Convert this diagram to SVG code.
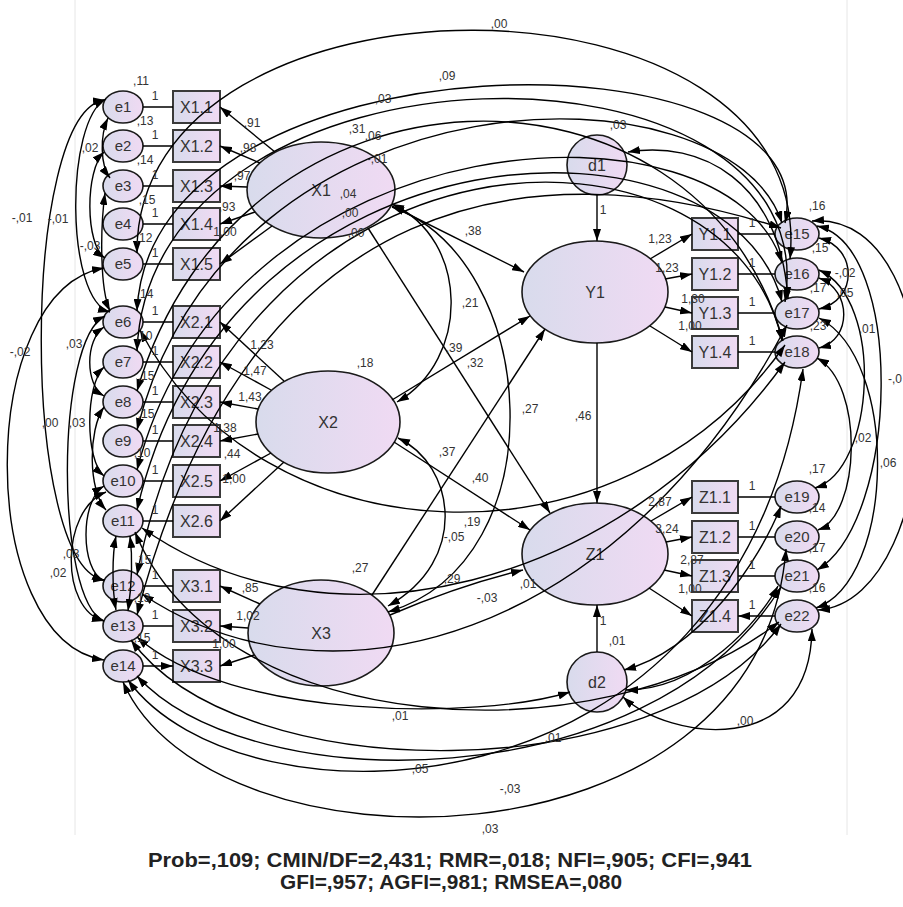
<svg xmlns="http://www.w3.org/2000/svg" width="903" height="907" viewBox="0 0 903 907">
<defs>
<linearGradient id="g" x1="0" y1="0" x2="1" y2="0"><stop offset="0" stop-color="#d8dbec"/><stop offset="1" stop-color="#f0daf3"/></linearGradient>
<marker id="a" viewBox="0 0 12 8" refX="12" refY="4" markerWidth="12" markerHeight="8" markerUnits="userSpaceOnUse" orient="auto-start-reverse"><path d="M0,0L12,4L0,8z" fill="#000"/></marker>
</defs>
<style>
.n{fill:url(#g);stroke:#1a1a1a;stroke-width:1.6}
.b{fill:url(#g);stroke:#3a3a3a;stroke-width:2}
.t{font-family:"Liberation Sans",Arial,sans-serif;fill:#333;text-anchor:middle}
.s15{font-size:15px}
.s16{font-size:16px}
.v{font-family:"Liberation Sans",Arial,sans-serif;font-size:12px;fill:#333;text-anchor:middle}
.p{fill:none;stroke:#000;stroke-width:1.4;marker-end:url(#a)}
.c{fill:none;stroke:#000;stroke-width:1.4;marker-start:url(#a);marker-end:url(#a)}
.fit{font-family:"Liberation Sans",Arial,sans-serif;font-size:20px;font-weight:bold;fill:#222;text-anchor:middle}
</style>
<rect width="903" height="907" fill="#fff"/>
<line x1="75" y1="0" x2="75" y2="835" stroke="#e6e6e6"/>
<line x1="847" y1="0" x2="847" y2="835" stroke="#e6e6e6"/>

<g id="nodes">
<g id="e1"><ellipse class="n" cx="123" cy="107" rx="20" ry="16"/><text class="t s15" x="123" y="112">e1</text></g>
<g id="e2"><ellipse class="n" cx="123" cy="146" rx="20" ry="16"/><text class="t s15" x="123" y="151">e2</text></g>
<g id="e3"><ellipse class="n" cx="123" cy="186" rx="20" ry="16"/><text class="t s15" x="123" y="191">e3</text></g>
<g id="e4"><ellipse class="n" cx="123" cy="224" rx="20" ry="16"/><text class="t s15" x="123" y="229">e4</text></g>
<g id="e5"><ellipse class="n" cx="123" cy="264" rx="20" ry="16"/><text class="t s15" x="123" y="269">e5</text></g>
<g id="e6"><ellipse class="n" cx="123" cy="322" rx="20" ry="16"/><text class="t s15" x="123" y="327">e6</text></g>
<g id="e7"><ellipse class="n" cx="123" cy="362" rx="20" ry="16"/><text class="t s15" x="123" y="367">e7</text></g>
<g id="e8"><ellipse class="n" cx="123" cy="402" rx="20" ry="16"/><text class="t s15" x="123" y="407">e8</text></g>
<g id="e9"><ellipse class="n" cx="123" cy="441" rx="20" ry="16"/><text class="t s15" x="123" y="446">e9</text></g>
<g id="e10"><ellipse class="n" cx="123" cy="481" rx="20" ry="16"/><text class="t s15" x="123" y="486">e10</text></g>
<g id="e11"><ellipse class="n" cx="123" cy="521" rx="20" ry="16"/><text class="t s15" x="123" y="526">e11</text></g>
<g id="e12"><ellipse class="n" cx="123" cy="586" rx="20" ry="16"/><text class="t s15" x="123" y="591">e12</text></g>
<g id="e13"><ellipse class="n" cx="123" cy="626" rx="20" ry="16"/><text class="t s15" x="123" y="631">e13</text></g>
<g id="e14"><ellipse class="n" cx="123" cy="666" rx="20" ry="16"/><text class="t s15" x="123" y="671">e14</text></g>

<g id="X1_1"><rect class="b" x="173" y="91" width="47" height="32"/><text class="t s16" x="196.5" y="113">X1.1</text></g>
<g id="X1_2"><rect class="b" x="173" y="130" width="47" height="32"/><text class="t s16" x="196.5" y="152">X1.2</text></g>
<g id="X1_3"><rect class="b" x="173" y="170" width="47" height="32"/><text class="t s16" x="196.5" y="192">X1.3</text></g>
<g id="X1_4"><rect class="b" x="173" y="208" width="47" height="32"/><text class="t s16" x="196.5" y="230">X1.4</text></g>
<g id="X1_5"><rect class="b" x="173" y="248" width="47" height="32"/><text class="t s16" x="196.5" y="270">X1.5</text></g>
<g id="X2_1"><rect class="b" x="173" y="306" width="47" height="32"/><text class="t s16" x="196.5" y="328">X2.1</text></g>
<g id="X2_2"><rect class="b" x="173" y="346" width="47" height="32"/><text class="t s16" x="196.5" y="368">X2.2</text></g>
<g id="X2_3"><rect class="b" x="173" y="386" width="47" height="32"/><text class="t s16" x="196.5" y="408">X2.3</text></g>
<g id="X2_4"><rect class="b" x="173" y="425" width="47" height="32"/><text class="t s16" x="196.5" y="447">X2.4</text></g>
<g id="X2_5"><rect class="b" x="173" y="465" width="47" height="32"/><text class="t s16" x="196.5" y="487">X2.5</text></g>
<g id="X2_6"><rect class="b" x="173" y="505" width="47" height="32"/><text class="t s16" x="196.5" y="527">X2.6</text></g>
<g id="X3_1"><rect class="b" x="173" y="570" width="47" height="32"/><text class="t s16" x="196.5" y="592">X3.1</text></g>
<g id="X3_2"><rect class="b" x="173" y="610" width="47" height="32"/><text class="t s16" x="196.5" y="632">X3.2</text></g>
<g id="X3_3"><rect class="b" x="173" y="650" width="47" height="32"/><text class="t s16" x="196.5" y="672">X3.3</text></g>

<g id="X1"><ellipse class="n" cx="321" cy="190" rx="74" ry="48"/><text class="t s16" x="321" y="196">X1</text></g>
<g id="X2"><ellipse class="n" cx="328" cy="422" rx="72" ry="51"/><text class="t s16" x="328" y="428">X2</text></g>
<g id="X3"><ellipse class="n" cx="321" cy="633" rx="73" ry="53"/><text class="t s16" x="321" y="639">X3</text></g>
<g id="Y1"><ellipse class="n" cx="595" cy="292" rx="73" ry="51"/><text class="t s16" x="595" y="298">Y1</text></g>
<g id="Z1"><ellipse class="n" cx="595" cy="554" rx="73" ry="51"/><text class="t s16" x="595" y="560">Z1</text></g>
<g id="d1"><circle class="n" cx="597" cy="165" r="30"/><text class="t s16" x="597" y="171">d1</text></g>
<g id="d2"><circle class="n" cx="597" cy="682" r="30"/><text class="t s16" x="597" y="688">d2</text></g>

<g id="Y1_1"><rect class="b" x="692" y="218" width="46" height="32"/><text class="t s16" x="715" y="240">Y1.1</text></g>
<g id="Y1_2"><rect class="b" x="692" y="258" width="46" height="32"/><text class="t s16" x="715" y="280">Y1.2</text></g>
<g id="Y1_3"><rect class="b" x="692" y="297" width="46" height="32"/><text class="t s16" x="715" y="319">Y1.3</text></g>
<g id="Y1_4"><rect class="b" x="692" y="336" width="46" height="32"/><text class="t s16" x="715" y="358">Y1.4</text></g>
<g id="Z1_1"><rect class="b" x="692" y="481" width="46" height="32"/><text class="t s16" x="715" y="503">Z1.1</text></g>
<g id="Z1_2"><rect class="b" x="692" y="521" width="46" height="32"/><text class="t s16" x="715" y="543">Z1.2</text></g>
<g id="Z1_3"><rect class="b" x="692" y="560" width="46" height="32"/><text class="t s16" x="715" y="582">Z1.3</text></g>
<g id="Z1_4"><rect class="b" x="692" y="600" width="46" height="32"/><text class="t s16" x="715" y="622">Z1.4</text></g>

<g id="e15"><ellipse class="n" cx="797" cy="234" rx="22" ry="16"/><text class="t s15" x="797" y="239">e15</text></g>
<g id="e16"><ellipse class="n" cx="797" cy="274" rx="22" ry="16"/><text class="t s15" x="797" y="279">e16</text></g>
<g id="e17"><ellipse class="n" cx="797" cy="313" rx="22" ry="16"/><text class="t s15" x="797" y="318">e17</text></g>
<g id="e18"><ellipse class="n" cx="797" cy="352" rx="22" ry="16"/><text class="t s15" x="797" y="357">e18</text></g>
<g id="e19"><ellipse class="n" cx="797" cy="497" rx="22" ry="16"/><text class="t s15" x="797" y="502">e19</text></g>
<g id="e20"><ellipse class="n" cx="797" cy="537" rx="22" ry="16"/><text class="t s15" x="797" y="542">e20</text></g>
<g id="e21"><ellipse class="n" cx="797" cy="576" rx="22" ry="16"/><text class="t s15" x="797" y="581">e21</text></g>
<g id="e22"><ellipse class="n" cx="797" cy="616" rx="22" ry="16"/><text class="t s15" x="797" y="621">e22</text></g>
</g>

<g id="connectors">
<path class="p" d="M143,107H173M143,146H173M143,186H173M143,224H173M143,264H173M143,322H173M143,362H173M143,402H173M143,441H173M143,481H173M143,521H173M143,586H173M143,626H173M143,666H173"/>
<path class="p" d="M275,152L220,107"/><path class="p" d="M260,163L220,146"/><path class="p" d="M247,187L220,186"/><path class="p" d="M255,212L220,224"/><path class="p" d="M272,226L220,264"/>
<path class="p" d="M284,381L220,322"/><path class="p" d="M271,390L220,362"/><path class="p" d="M258,409L220,402"/><path class="p" d="M258,434L220,441"/><path class="p" d="M271,453L220,481"/><path class="p" d="M284,462L220,521"/>
<path class="p" d="M260,604L220,586"/><path class="p" d="M248,628L220,626"/><path class="p" d="M254,655L220,666"/>
<path class="p" d="M650,259L692,234"/><path class="p" d="M665,279L692,274"/><path class="p" d="M665,307L692,313"/><path class="p" d="M650,326L692,352"/>
<path class="p" d="M651,521L692,497"/><path class="p" d="M666,542L692,537"/><path class="p" d="M664,570L692,576"/><path class="p" d="M649,588L692,616"/>
<path class="p" d="M775,234H738M775,274H738M775,313H738M775,352H738M775,497H738M775,537H738M775,576H738M775,616H738"/>
<path class="p" d="M597,195V241"/>
<path class="p" d="M597,343V503"/>
<path class="p" d="M597,652V605"/>
<path class="p" d="M392,206L524,272"/>
<path class="p" d="M368,228L550,513"/>
<path class="p" d="M392,400L530,316"/>
<path class="p" d="M394,442L530,530"/>
<path class="p" d="M372,595L545,329"/>
<path class="p" d="M390,615Q460,585 523,570"/>
<path class="c" d="M392,204C470,240 470,360 397,402"/>
<path class="c" d="M392,207C540,260 560,560 388,612"/>
<path class="c" d="M398,438C455,465 470,560 388,606"/>
<path class="c" d="M137,253C135,-45 820,-45 790,259"/>
<path class="c" d="M137,311C150,26 830,26 785,223"/>
<path class="c" d="M137,351C150,23 830,23 785,302"/>
<path class="c" d="M137,391C240,40 700,40 783,341"/>
<path class="c" d="M137,430C230,60 730,60 782,223"/>
<path class="c" d="M137,470C230,110 730,90 782,263"/>
<path class="c" d="M137,510C230,110 730,100 782,302"/>
<path class="c" d="M137,575C230,100 730,100 782,341"/>
<path class="c" d="M137,615C250,180 540,150 781,228"/>
<path class="c" d="M628,152C700,140 780,180 788,299"/>
<path class="c" d="M140,330C260,560 620,580 785,345"/>
<path class="c" d="M142,528C330,660 620,590 785,362"/>
<path class="c" d="M142,594C330,720 620,640 787,325"/>
<path class="c" d="M819,238C858,248 858,300 819,309"/>
<path class="c" d="M819,278C852,290 852,340 819,348"/>
<path class="c" d="M817,226C905,245 900,520 817,570"/>
<path class="c" d="M812,221C960,210 950,600 818,610"/>
<path class="c" d="M819,270C885,300 875,470 815,488"/>
<path class="c" d="M819,318C900,360 895,580 816,608"/>
<path class="c" d="M817,358C865,385 860,515 818,530"/>
<path class="c" d="M624,670C700,650 760,560 781,506"/>
<path class="c" d="M626,690C700,690 760,620 778,586"/>
<path class="c" d="M812,629C810,760 670,740 623,697"/>
<path class="c" d="M137,637C230,720 480,720 570,692"/>
<path class="c" d="M137,676C250,800 650,800 781,587"/>
<path class="c" d="M131,640C240,790 660,790 781,624"/>
<path class="c" d="M128,680C240,835 740,830 803,369"/>
<path class="c" d="M123,682C210,880 760,880 786,549"/>
<path class="c" d="M135,532C220,740 600,760 779,622"/>
<path class="c" d="M105,100C20,110 20,570 105,580"/>
<path class="c" d="M106,99C65,120 65,300 110,312"/>
<path class="c" d="M108,118C100,135 100,165 110,178"/>
<path class="c" d="M105,193C100,230 100,290 110,311"/>
<path class="c" d="M104,268C-25,290 -25,640 104,660"/>
<path class="c" d="M104,327C85,340 85,385 104,396"/>
<path class="c" d="M105,316C55,340 55,600 104,621"/>
<path class="c" d="M104,367C85,385 85,460 104,476"/>
<path class="c" d="M104,486C80,500 80,570 104,581"/>
<path class="c" d="M106,492C60,510 60,610 104,621"/>
<path class="c" d="M104,407C88,430 88,490 106,510"/>
<path class="c" d="M104,152C85,170 85,245 105,258"/>
<path class="c" d="M116,536C112,555 112,590 116,610"/>
<path class="c" d="M130,536C133,560 131,590 128,611"/>
</g>

<g id="labels">
<text class="v" x="155" y="100">1</text><text class="v" x="155" y="139">1</text><text class="v" x="155" y="179">1</text><text class="v" x="155" y="217">1</text><text class="v" x="155" y="257">1</text>
<text class="v" x="155" y="315">1</text><text class="v" x="155" y="355">1</text><text class="v" x="155" y="395">1</text><text class="v" x="155" y="434">1</text><text class="v" x="155" y="474">1</text><text class="v" x="155" y="514">1</text>
<text class="v" x="155" y="579">1</text><text class="v" x="155" y="619">1</text><text class="v" x="155" y="659">1</text>
<text class="v" x="752" y="227">1</text><text class="v" x="752" y="267">1</text><text class="v" x="752" y="306">1</text><text class="v" x="752" y="345">1</text>
<text class="v" x="752" y="490">1</text><text class="v" x="752" y="530">1</text><text class="v" x="752" y="569">1</text><text class="v" x="752" y="609">1</text>
<text class="v" x="252" y="127">,91</text><text class="v" x="248" y="152">,98</text><text class="v" x="242" y="180">,97</text><text class="v" x="227" y="211">,93</text><text class="v" x="225" y="236">1,00</text>
<text class="v" x="262" y="349">1,23</text><text class="v" x="255" y="375">1,47</text><text class="v" x="250" y="401">1,43</text><text class="v" x="225" y="432">1,38</text><text class="v" x="232" y="458">,44</text><text class="v" x="234" y="483">1,00</text>
<text class="v" x="250" y="592">,85</text><text class="v" x="248" y="620">1,02</text><text class="v" x="224" y="648">1,00</text>
<text class="v" x="660" y="243">1,23</text><text class="v" x="667" y="272">1,23</text><text class="v" x="693" y="303">1,30</text><text class="v" x="690" y="330">1,00</text>
<text class="v" x="660" y="506">2,87</text><text class="v" x="667" y="533">3,24</text><text class="v" x="692" y="564">2,87</text><text class="v" x="690" y="593">1,00</text>
<text class="v" x="141" y="85">,11</text><text class="v" x="145" y="125">,13</text><text class="v" x="145" y="164">,14</text><text class="v" x="147" y="204">,15</text><text class="v" x="144" y="242">,12</text>
<text class="v" x="145" y="298">,14</text><text class="v" x="144" y="340">,10</text><text class="v" x="146" y="380">,15</text><text class="v" x="146" y="418">,15</text><text class="v" x="142" y="457">,10</text>
<text class="v" x="143" y="564">,15</text><text class="v" x="142" y="602">,13</text><text class="v" x="142" y="642">,15</text>
<text class="v" x="90" y="152">,02</text><text class="v" x="22" y="222">-,01</text><text class="v" x="58" y="223">-,01</text><text class="v" x="90" y="250">-,03</text>
<text class="v" x="74" y="348">,03</text><text class="v" x="20" y="356">-,02</text><text class="v" x="50" y="427">,00</text><text class="v" x="77" y="427">,03</text>
<text class="v" x="71" y="558">,03</text><text class="v" x="58" y="577">,02</text>
<text class="v" x="499" y="28">,00</text><text class="v" x="447" y="80">,09</text><text class="v" x="383" y="103">,03</text><text class="v" x="357" y="133">,31</text><text class="v" x="373" y="140">,06</text>
<text class="v" x="377" y="163">-,01</text><text class="v" x="348" y="198">,04</text><text class="v" x="350" y="217">,00</text><text class="v" x="356" y="237">,00</text>
<text class="v" x="618" y="129">,03</text>
<text class="v" x="473" y="235">,38</text><text class="v" x="470" y="307">,21</text><text class="v" x="454" y="352">,39</text><text class="v" x="475" y="367">,32</text>
<text class="v" x="365" y="367">,18</text><text class="v" x="530" y="413">,27</text><text class="v" x="583" y="420">,46</text><text class="v" x="447" y="456">,37</text>
<text class="v" x="480" y="482">,40</text><text class="v" x="472" y="526">,19</text><text class="v" x="454" y="541">-,05</text><text class="v" x="360" y="572">,27</text>
<text class="v" x="452" y="583">,29</text><text class="v" x="528" y="588">,01</text><text class="v" x="487" y="602">-,03</text>
<text class="v" x="603" y="214">1</text><text class="v" x="603" y="625">1</text><text class="v" x="617" y="645">,01</text>
<text class="v" x="817" y="210">,16</text><text class="v" x="820" y="252">,15</text><text class="v" x="818" y="292">,17</text><text class="v" x="818" y="330">,23</text>
<text class="v" x="845" y="277">-,02</text><text class="v" x="845" y="297">,05</text><text class="v" x="867" y="333">,01</text>
<text class="v" x="888" y="383" style="text-anchor:start">-,0</text>
<text class="v" x="863" y="442">,02</text><text class="v" x="888" y="467">,06</text>
<text class="v" x="817" y="473">,17</text><text class="v" x="817" y="512">,14</text><text class="v" x="817" y="552">,17</text><text class="v" x="817" y="592">,16</text>
<text class="v" x="400" y="720">,01</text><text class="v" x="553" y="742">,01</text><text class="v" x="745" y="725">,00</text>
<text class="v" x="420" y="773">,05</text><text class="v" x="510" y="793">-,03</text><text class="v" x="490" y="833">,03</text>
</g>

<g id="fit">
<text class="fit" x="450" y="867" textLength="604" lengthAdjust="spacingAndGlyphs">Prob=,109; CMIN/DF=2,431; RMR=,018; NFI=,905; CFI=,941</text>
<text class="fit" x="451" y="889" textLength="342" lengthAdjust="spacingAndGlyphs">GFI=,957; AGFI=,981; RMSEA=,080</text>
</g>
</svg>
